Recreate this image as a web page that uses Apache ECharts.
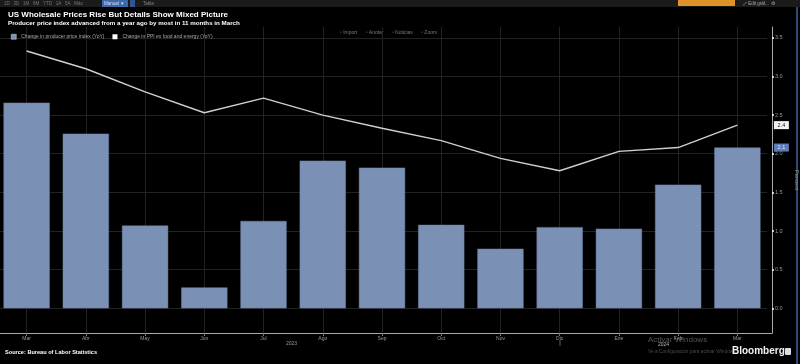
<!DOCTYPE html>
<html>
<head>
<meta charset="utf-8">
<script src="https://cdn.jsdelivr.net/npm/echarts@6/dist/echarts.min.js"></script>
<style>
html,body{margin:0;padding:0;background:#000;}
#c{width:800px;height:364px;}
</style>
</head>
<body>
<div id="c"></div>
<script>
const categories = ['Mar','Abr','May','Jun','Jul','Ago','Sep','Oct','Nov','Dic','Ene','Feb','Mar'];
const ppiYoY = [2.66, 2.26, 1.07, 0.27, 1.13, 1.91, 1.82, 1.08, 0.77, 1.05, 1.03, 1.60, 2.08];
const coreYoY = [3.33, 3.10, 2.80, 2.53, 2.72, 2.50, 2.33, 2.17, 1.94, 1.78, 2.03, 2.08, 2.37];
const yearLabels = ['2023', '2024'];
const seriesNames = ['Change in producer price index (YoY)', 'Change in PPI ex food and energy (YoY)'];

const chart = echarts.init(document.getElementById('c'), null, {renderer: 'canvas'});
const last = categories.length - 1;
const font = 'Liberation Sans, Arial, sans-serif';

chart.setOption({
  backgroundColor: '#000',
  animation: false,
  textStyle: {fontFamily: font},
  title: [
    {text: 'US Wholesale Prices Rise But Details Show Mixed Picture', left: 3, top: 6,
     textStyle: {color: '#fff', fontSize: 8, fontWeight: 'bold', fontFamily: font}},
    {text: 'Producer price index advanced from a year ago by most in 11 months in March', left: 3, top: 15.5,
     textStyle: {color: '#fff', fontSize: 6.2, fontWeight: 'bold', fontFamily: font}}
  ],
  legend: {
    left: 6, top: 29, itemWidth: 5, itemHeight: 5, itemGap: 8, icon: 'rect',
    textStyle: {color: '#aaa', fontSize: 5, fontFamily: font},
    data: [
      {name: seriesNames[0], itemStyle: {color: '#7a90b5', borderColor: '#dde', borderWidth: 0.5}},
      {name: seriesNames[1], itemStyle: {color: '#fff'}}
    ]
  },
  grid: {left: -3, right: 33, top: 27, bottom: 31, containLabel: false, outerBoundsMode: 'none'},
  xAxis: {
    type: 'category', data: categories, boundaryGap: true,
    axisLine: {onZero: false, lineStyle: {color: '#aaa', width: 1}},
    axisTick: {show: true, alignWithLabel: true, length: 3, lineStyle: {color: '#777'}},
    axisLabel: {color: '#999', fontSize: 5, margin: 3, interval: 0},
    splitLine: {show: true, alignWithLabel: true, lineStyle: {color: '#222', width: 1}}
  },
  yAxis: {
    type: 'value', position: 'right', offset: 5,
    min: -0.32, max: 3.64, splitNumber: 8,
    name: 'Percent', nameLocation: 'middle', nameRotate: -90, nameGap: 8,
    nameTextStyle: {color: '#999', fontSize: 6},
    axisLine: {show: true, lineStyle: {color: '#aaa'}},
    axisTick: {show: true, length: 2, lineStyle: {color: '#fff', width: 1.5}},
    axisLabel: {color: '#999', fontSize: 5.5, margin: 3,
      showMinLabel: false, showMaxLabel: false,
      formatter: v => (Math.abs(v * 2 - Math.round(v * 2)) < 1e-6 ? v.toFixed(1) : '')},
    splitLine: {show: true, showMinLine: false, showMaxLine: false, lineStyle: {color: '#222'}}
  },
  series: [
    {
      name: seriesNames[0], type: 'bar', data: ppiYoY, barWidth: '78%',
      itemStyle: {color: '#7a90b5', borderColor: '#6d83a8', borderWidth: 0.5},
      markPoint: {
        symbol: 'rect', symbolSize: [15, 8], symbolOffset: [44, 0], silent: true,
        itemStyle: {color: '#5b7db8'},
        label: {show: true, color: '#dfe6f2', fontSize: 5.5, formatter: p => p.value.toFixed(1)},
        data: [{coord: [last, ppiYoY[last]], value: ppiYoY[last]}]
      }
    },
    {
      name: seriesNames[1], type: 'line', data: coreYoY, showSymbol: false, symbol: 'none',
      lineStyle: {color: '#cfcfcf', width: 1.4},
      itemStyle: {color: '#fff'},
      markPoint: {
        symbol: 'rect', symbolSize: [15, 8], symbolOffset: [44, 0], silent: true,
        itemStyle: {color: '#f2f2f2'},
        label: {show: true, color: '#111', fontSize: 5.5, formatter: p => p.value.toFixed(1)},
        data: [{coord: [last, coreYoY[last]], value: coreYoY[last]}]
      }
    }
  ],
  graphic: [
    {type: 'rect', left: 0, top: 0, shape: {width: 800, height: 7}, style: {fill: '#1b1b1b'}, silent: true},
    {type: 'text', left: 4, top: 1, style: {text: '1D   3D   1M   6M   YTD   1A   5A   Máx', fill: '#777', fontSize: 4.5, fontFamily: font}},
    {type: 'rect', left: 102, top: 0, shape: {width: 26, height: 7}, style: {fill: '#3c6aa8'}},
    {type: 'text', left: 104, top: 1, style: {text: 'Manual ▼', fill: '#dde', fontSize: 4.5, fontFamily: font}},
    {type: 'rect', left: 130, top: 0, shape: {width: 5, height: 7}, style: {fill: '#2f5690'}},
    {type: 'text', left: 143, top: 1, style: {text: 'Tabla', fill: '#888', fontSize: 4.5, fontFamily: font}},
    {type: 'rect', left: 678, top: 0, shape: {width: 57, height: 6}, style: {fill: '#e0922a'}},
    {type: 'text', left: 743, top: 1, style: {text: '⤢ Edit gráf...  ⚙', fill: '#aaa', fontSize: 4.5, fontFamily: font}},
    {type: 'text', left: 340, top: 30, style: {text: '▫ Import      ▫ Anotar      ▫ Noticias      ▫ Zoom', fill: '#777', fontSize: 5, fontFamily: font}},
    {type: 'line', shape: {x1: 767, y1: 333.5, x2: 772.5, y2: 333.5}, style: {stroke: '#aaa', lineWidth: 1}},
    {type: 'text', left: 286, top: 341, style: {text: yearLabels[0], fill: '#999', fontSize: 5, fontFamily: font}},
    {type: 'text', left: 658, top: 342, style: {text: yearLabels[1], fill: '#bbb', fontSize: 5, fontFamily: font}},
    {type: 'line', shape: {x1: 560, y1: 340, x2: 560, y2: 346}, style: {stroke: '#777', lineWidth: 0.8}},
    {type: 'text', left: 5, top: 349, style: {text: 'Source: Bureau of Labor Statistics', fill: '#fff', fontSize: 5.6, fontWeight: 'bold', fontFamily: font}},
    {type: 'text', left: 648, top: 336, style: {text: 'Activar Windows', fill: '#555', fontSize: 8, fontFamily: font}},
    {type: 'text', left: 648, top: 349, style: {text: 'Ve a Configuración para activar Windows.', fill: '#4a4a4a', fontSize: 4.8, fontFamily: font}},
    {type: 'text', left: 732, top: 346, style: {text: 'Bloomberg', fill: '#f2f2f2', fontSize: 10, fontWeight: 'bold', fontFamily: font}},
    {type: 'rect', left: 785, top: 348, shape: {width: 6, height: 7, r: 1}, style: {fill: '#ddd'}},
    {type: 'line', shape: {x1: 797, y1: 7, x2: 797, y2: 364}, style: {stroke: '#2b4a78', lineWidth: 2}}
  ]
});
</script>
</body>
</html>
